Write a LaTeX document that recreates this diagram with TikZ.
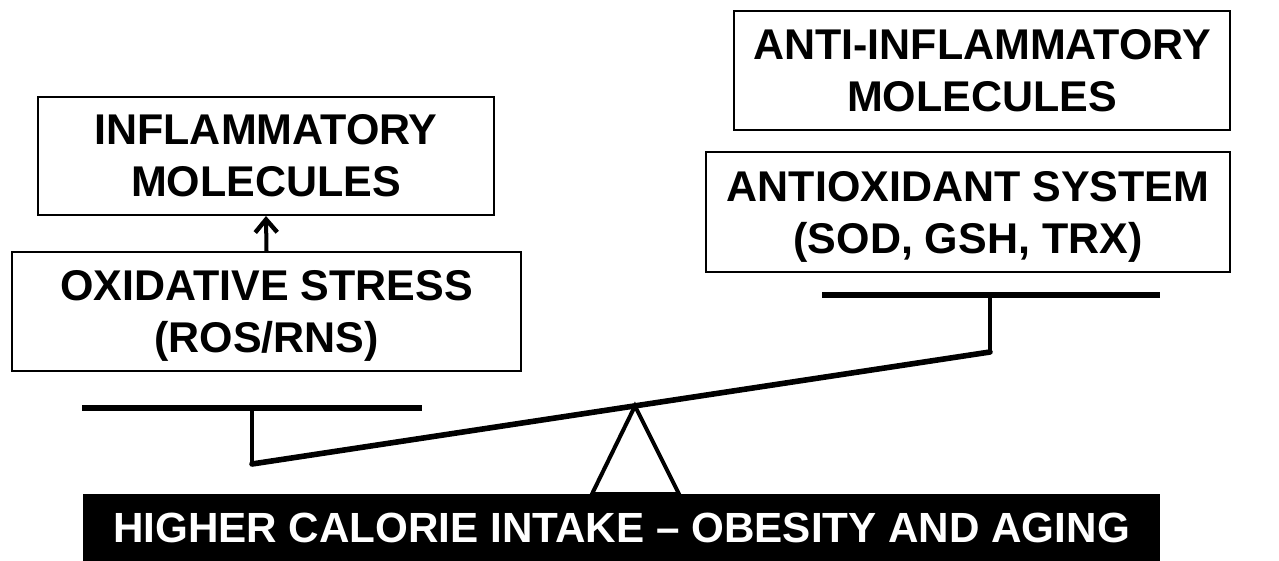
\documentclass[tikz,border=0pt]{standalone}
\usepackage{fontspec}
\setmainfont{Liberation Sans}
\usepackage{tikz}
\usetikzlibrary{arrows.meta}
\tikzstyle{seesaw}=[
  x=0.5pt,y=-0.5pt,font=\fontsize{21.5}{26}\selectfont\bfseries
]
\tikzstyle{labelbox}=[
  draw,line width=1pt,align=center,inner sep=0pt,fill=white
]
\tikzstyle{groundbar}=[
  fill=black,text=white,inner sep=0pt,minimum width=538.5pt,minimum height=33.5pt,
  font=\fontsize{21.1}{26}\selectfont\bfseries
]
\tikzstyle{plank}=[
  line width=2.8pt
]
\tikzstyle{stem}=[
  line width=1.6pt
]

\begin{document}
\begin{tikzpicture}[seesaw]
    \useasboundingbox (0,0) rectangle (1279,561);
    \node (infl) at (266,156) [labelbox,minimum width=228pt,minimum height=59pt] {INFLAMMATORY\\MOLECULES};
    \node (oxid) at (266.5,311.5) [labelbox,minimum width=254.5pt,minimum height=59.5pt] {OXIDATIVE STRESS\\\smash{(ROS/RNS)}};
    \node (antiinfl) at (982,70.5) [labelbox,minimum width=248pt,minimum height=59.5pt] {ANTI-INFLAMMATORY\\MOLECULES};
    \node (antiox) at (968,212) [labelbox,minimum width=262pt,minimum height=60pt] {ANTIOXIDANT SYSTEM\\\smash{(SOD, GSH, TRX)}};
    \node (ground) at (621.5,527.5) [groundbar] {HIGHER CALORIE INTAKE -- OBESITY AND AGING};
    \draw [line width=2pt,-{Straight Barb[length=6.5pt,width=11pt,line width=2.2pt]}] (oxid.north) -- (infl.south);
    % the balance
    \coordinate (lend) at (252,464);
    \coordinate (rend) at (990,352);
    \coordinate (lhang) at (252,408);
    \coordinate (rhang) at (990,295);
    \coordinate (apex) at (635,406);
    \draw [plank] (82,408) -- (422,408);
    \draw [plank] (822,295) -- (1160,295);
    \draw [stem] (lhang) -- (lend);
    \draw [stem] (rhang) -- (rend);
    \draw [line width=2pt,fill=white] (592,494) -- (apex) -- (679,494) -- cycle;
    \draw [plank,line cap=round] (lend) -- (rend);
  \end{tikzpicture}
\end{document}
